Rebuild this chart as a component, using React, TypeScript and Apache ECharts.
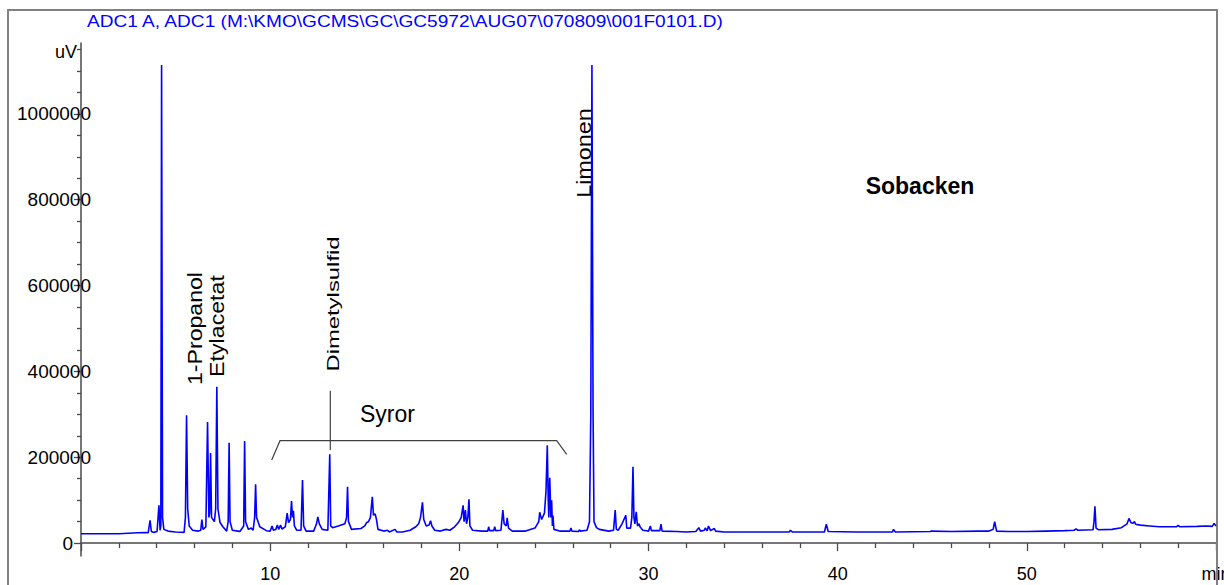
import React, { useEffect, useRef } from "react";
import * as echarts from "echarts";

const TITLE = "ADC1 A, ADC1 (M:\\KMO\\GCMS\\GC\\GC5972\\AUG07\\070809\\001F0101.D)";
const Y_UNIT = "uV";
const X_UNIT = "min";

const X_MIN = 0;
const X_MAX = 60;
const Y_MIN = -30000;
const Y_MAX = 1165000;

const yLabelValues = [0, 200000, 400000, 600000, 800000, 1000000];
const yMinorValues = [
  50000, 100000, 150000, 250000, 300000, 350000, 450000, 500000, 550000,
  650000, 700000, 750000, 850000, 900000, 950000, 1050000, 1100000, 1150000,
];

// retention time (min), signal (uV)
const traceEarly: [number, number][] = [
  [0, 22000], [2.0, 22000], [2.5, 23000], [3.0, 24000], [3.4, 24500], [3.55, 24000],
  [3.65, 53000], [3.72, 27000], [3.85, 25000], [4.02, 27000], [4.12, 88000], [4.18, 30000],
  [4.22, 40000], [4.26, 1114000], [4.31, 60000], [4.38, 32000], [4.6, 28000], [5.0, 26000],
  [5.45, 25000], [5.52, 60000], [5.58, 298000], [5.64, 80000], [5.72, 40000], [5.9, 30000],
  [6.2, 28000], [6.33, 30000], [6.39, 55000], [6.45, 32000], [6.6, 38000], [6.69, 282000],
  [6.76, 60000], [6.8, 70000], [6.85, 210000], [6.9, 60000], [7.05, 50000], [7.12, 80000],
  [7.18, 364000], [7.24, 80000], [7.35, 48000], [7.5, 38000], [7.7, 28000], [7.78, 50000],
  [7.83, 234000], [7.88, 50000], [8.0, 30000], [8.3, 28000], [8.4, 27000], [8.6, 40000],
  [8.65, 238000], [8.7, 50000], [8.85, 32000], [9.0, 35000], [9.1, 30000], [9.18, 60000],
  [9.23, 137000], [9.28, 60000], [9.45, 38000], [9.8, 29000],
];

const traceMid: [number, number][] = [
  [10.0, 28000], [10.1, 40000], [10.17, 30000], [10.3, 32000], [10.38, 42000], [10.45, 32000],
  [10.55, 42000], [10.62, 33000], [10.8, 38000], [10.9, 70000], [10.97, 48000], [11.07, 55000],
  [11.13, 98000], [11.18, 60000], [11.23, 75000], [11.28, 40000], [11.4, 30000], [11.63, 30000],
  [11.71, 147000], [11.77, 40000], [11.9, 28000], [12.3, 28000], [12.45, 45000], [12.52, 61000],
  [12.6, 45000], [12.75, 32000], [13.05, 30000], [13.15, 207000], [13.2, 40000], [13.3, 36000],
  [13.6, 40000], [13.95, 45000], [14.04, 60000], [14.09, 131000], [14.14, 50000], [14.3, 32000],
  [14.8, 34000], [15.0, 40000], [15.1, 48000], [15.2, 50000], [15.3, 60000], [15.4, 108000],
  [15.46, 65000], [15.55, 68000], [15.62, 55000], [15.7, 32000], [16.0, 28000], [16.2, 30000],
  [16.3, 26000], [16.6, 32000], [16.7, 26000], [17.0, 26000], [17.4, 30000], [17.7, 38000],
  [17.85, 45000], [17.95, 60000], [18.05, 95000], [18.12, 55000], [18.25, 40000], [18.4, 42000],
  [18.48, 52000], [18.55, 40000], [18.7, 30000], [19.0, 28000], [19.3, 32000], [19.5, 30000],
  [19.75, 38000], [19.95, 48000], [20.1, 60000], [20.2, 88000], [20.25, 50000], [20.32, 77000],
  [20.38, 45000], [20.45, 60000], [20.51, 102000], [20.56, 40000], [20.7, 30000], [21.2, 28000],
  [21.5, 28000], [21.55, 38000], [21.6, 29000], [21.82, 29000], [21.87, 38000], [21.92, 29000],
  [22.2, 30000], [22.3, 77000], [22.37, 45000], [22.48, 40000], [22.53, 59000], [22.6, 35000],
  [22.8, 28000], [23.5, 28000], [24.0, 35000], [24.2, 50000], [24.25, 72000], [24.35, 55000],
  [24.5, 70000], [24.58, 120000], [24.65, 228000], [24.7, 100000], [24.73, 60000], [24.78, 152000],
  [24.84, 60000], [24.88, 100000], [24.92, 40000], [24.95, 64000], [25.0, 32000], [25.3, 28000],
  [25.85, 28000], [25.9, 35000], [25.95, 28000], [26.3, 27000], [26.35, 31000], [26.4, 28000],
  [26.75, 30000], [26.88, 50000], [26.95, 300000], [27.01, 1114000], [27.07, 300000], [27.12, 50000],
  [27.25, 36000],
];

const traceLate: [number, number][] = [
  [27.4, 32000], [27.9, 28000], [28.15, 30000], [28.24, 77000], [28.3, 32000], [28.4, 30000],
  [28.6, 45000], [28.8, 65000], [28.85, 35000], [29.05, 35000], [29.12, 60000], [29.18, 178000],
  [29.23, 60000], [29.28, 45000], [29.35, 73000], [29.42, 40000], [29.5, 45000], [29.55, 38000],
  [29.7, 30000], [29.9, 29000], [30.0, 28000], [30.1, 40000], [30.15, 29000], [30.6, 29000],
  [30.66, 44000], [30.72, 28000], [31.5, 27000], [32.0, 26000], [32.5, 27000], [32.66, 36000],
  [32.75, 28000], [32.95, 30000], [33.0, 35000], [33.1, 29000], [33.17, 40000], [33.28, 29000],
  [33.48, 34000], [33.55, 28000], [34.0, 26000], [36.0, 26000], [37.45, 26000], [37.5, 30000],
  [37.6, 26000], [39.3, 26000], [39.4, 44000], [39.5, 27000], [41.0, 26000], [42.9, 26000],
  [42.95, 32000], [43.05, 26000], [44.9, 27000], [44.95, 28000], [46.0, 27000], [47.5, 28000],
  [48.0, 28000], [48.22, 32000], [48.3, 50000], [48.4, 28000], [49.0, 27000], [50.0, 27000],
  [51.0, 28000], [52.0, 29000], [52.5, 30000], [52.6, 33000], [52.7, 30000], [53.5, 31000],
  [53.55, 50000], [53.6, 86000], [53.66, 35000], [53.8, 31000], [54.5, 32000], [55.0, 36000],
  [55.3, 45000], [55.4, 57600], [55.5, 48000], [55.6, 46000], [55.7, 50000], [55.75, 44000],
  [56.0, 42000], [56.5, 40000], [57.0, 38000], [57.9, 38000], [58.0, 41000], [58.1, 38000],
  [59.0, 39000], [59.5, 40000], [59.8, 39000], [59.9, 46000], [60, 40000],
];

const peakLabels = ["1-Propanol", "Etylacetat", "Dimetylsulfid", "Limonen"];
const groupLabel = "Syror";
const sampleName = "Sobacken";

const FONT = "'Liberation Sans', Arial, sans-serif";
const AXIS_COLOR = "#4a4a4a";

export default function App() {
  const ref = useRef<HTMLDivElement>(null);

  useEffect(() => {
    document.body.style.margin = "0";
    if (!ref.current) return;
    const chart = echarts.init(ref.current, undefined, { renderer: "svg" });
    const trace = [...traceEarly, ...traceMid, ...traceLate];

    const vText = (text: string, x: number, y: number, fontSize: number, scaleX: number) => ({
      type: "text",
      x,
      y,
      rotation: Math.PI / 2,
      scaleX,
      style: {
        text,
        fill: "#000",
        font: `${fontSize}px ${FONT}`,
        align: "center",
        verticalAlign: "middle",
      },
      z: 10,
    });

    chart.setOption({
      animation: false,
      grid: { left: 81, right: 8, top: 43, bottom: 29, outerBoundsMode: "none", containLabel: false },
      xAxis: {
        type: "value",
        min: X_MIN,
        max: X_MAX,
        interval: 10,
        axisLine: { show: true, lineStyle: { color: AXIS_COLOR, width: 1.5 } },
        axisTick: { show: true, length: 8, lineStyle: { color: AXIS_COLOR, width: 1.3 } },
        minorTick: { show: true, splitNumber: 5, length: 5, lineStyle: { color: AXIS_COLOR, width: 1.3 } },
        splitLine: { show: false },
        axisLabel: {
          show: true,
          margin: 9,
          color: "#000",
          fontSize: 18,
          fontFamily: FONT,
          showMinLabel: true,
          showMaxLabel: true,
          formatter: (v: number) => (v === X_MIN ? "" : v === X_MAX ? X_UNIT : String(v)),
        },
      },
      yAxis: [
        {
          type: "value",
          min: Y_MIN,
          max: Y_MAX,
          position: "left",
          axisLine: { show: true, lineStyle: { color: AXIS_COLOR, width: 1.5 } },
          axisTick: { show: true, length: 7, customValues: yLabelValues, lineStyle: { color: AXIS_COLOR, width: 1.3 } },
          splitLine: { show: false },
          axisLabel: {
            show: true,
            customValues: yLabelValues,
            margin: -10,
            color: "#000",
            fontSize: 19,
            fontFamily: FONT,
            formatter: (v: number) => (v === 0 ? "{z|0}" : String(v)),
            rich: { z: { fontSize: 19, fontFamily: FONT, color: "#000", padding: [0, 18, 0, 0] } },
          },
        },
        {
          type: "value",
          min: Y_MIN,
          max: Y_MAX,
          position: "left",
          axisLine: { show: false },
          axisTick: { show: true, length: 4, customValues: yMinorValues, lineStyle: { color: AXIS_COLOR, width: 1.3 } },
          splitLine: { show: false },
          axisLabel: { show: false },
        },
      ],
      series: [
        {
          type: "line",
          data: trace,
          yAxisIndex: 0,
          showSymbol: false,
          symbol: "none",
          lineStyle: { color: "#0000ff", width: 1.6 },
          z: 5,
        },
      ],
      graphic: [
        {
          type: "rect",
          shape: { x: 8, y: 10, width: 1209, height: 620 },
          style: { fill: "none", stroke: "#808080", lineWidth: 2 },
          z: 1,
        },
        {
          type: "text",
          x: 87,
          y: 21,
          scaleX: 1.156,
          style: { text: TITLE, fill: "#0000ff", font: `16.5px ${FONT}`, align: "left", verticalAlign: "middle" },
        },
        {
          type: "text",
          x: 77,
          y: 52,
          style: { text: Y_UNIT, fill: "#000", font: `18px ${FONT}`, align: "right", verticalAlign: "middle" },
        },
        vText(peakLabels[0], 195.5, 328.5, 20, 1.155),
        vText(peakLabels[1], 217, 326, 20, 1.16),
        vText(peakLabels[2], 333.6, 304, 16, 1.49),
        vText(peakLabels[3], 584.5, 153, 20, 1.17),
        {
          type: "text",
          x: 387.5,
          y: 414,
          style: { text: groupLabel, fill: "#000", font: `23px ${FONT}`, align: "center", verticalAlign: "middle" },
        },
        {
          type: "text",
          x: 920,
          y: 185.5,
          style: { text: sampleName, fill: "#000", font: `bold 23px ${FONT}`, align: "center", verticalAlign: "middle" },
        },
        {
          type: "polyline",
          shape: { points: [[271.7, 460], [280, 440.7], [556.7, 440.7], [566.7, 454.3]] },
          style: { fill: "none", stroke: "#404040", lineWidth: 1.2 },
        },
        {
          type: "line",
          shape: { x1: 330.3, y1: 390.7, x2: 330.3, y2: 450 },
          style: { stroke: "#404040", lineWidth: 1.2 },
        },
      ],
    });

    return () => chart.dispose();
  }, []);

  return <div ref={ref} style={{ width: 1224, height: 585 }} />;
}
